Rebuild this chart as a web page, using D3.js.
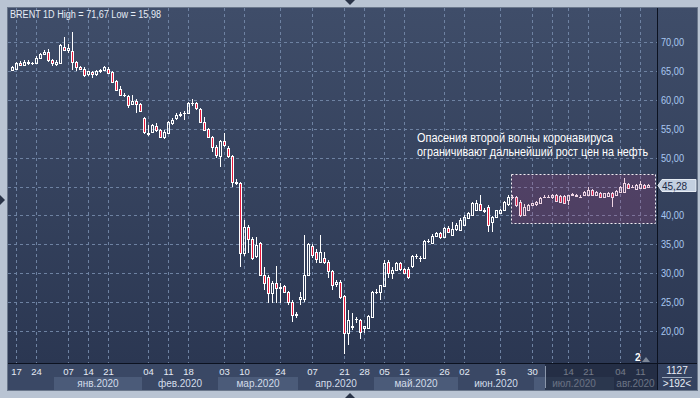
<!DOCTYPE html>
<html><head><meta charset="utf-8">
<script src="https://cdn.jsdelivr.net/npm/d3@7"></script>
<style>html,body{margin:0;padding:0;background:#b9c4d3;overflow:hidden}svg{display:block;font-family:"Liberation Sans",Arial,sans-serif}</style>
</head><body><svg id="c" width="700" height="398"></svg>
<script>
const dates = [
"2019-12-16","2019-12-17","2019-12-18","2019-12-19","2019-12-20","2019-12-23","2019-12-24","2019-12-26","2019-12-27","2019-12-30","2019-12-31",
"2020-01-02","2020-01-03","2020-01-06","2020-01-07","2020-01-08","2020-01-09","2020-01-10","2020-01-13","2020-01-14","2020-01-15","2020-01-16","2020-01-17","2020-01-20","2020-01-21","2020-01-22","2020-01-23","2020-01-24","2020-01-27","2020-01-28","2020-01-29","2020-01-30","2020-01-31",
"2020-02-03","2020-02-04","2020-02-05","2020-02-06","2020-02-07","2020-02-10","2020-02-11","2020-02-12","2020-02-13","2020-02-14","2020-02-17","2020-02-18","2020-02-19","2020-02-20","2020-02-21","2020-02-24","2020-02-25","2020-02-26","2020-02-28",
"2020-03-02","2020-03-03","2020-03-04","2020-03-05","2020-03-06","2020-03-09","2020-03-10","2020-03-11","2020-03-12","2020-03-16","2020-03-17","2020-03-18","2020-03-19","2020-03-20","2020-03-23","2020-03-24","2020-03-25","2020-03-26","2020-03-30","2020-03-31",
"2020-04-01","2020-04-02","2020-04-03","2020-04-07","2020-04-08","2020-04-09","2020-04-14","2020-04-15","2020-04-16","2020-04-17","2020-04-20","2020-04-21","2020-04-22","2020-04-23","2020-04-24","2020-04-27","2020-04-28","2020-04-29","2020-04-30",
"2020-05-01","2020-05-04","2020-05-05","2020-05-06","2020-05-07","2020-05-08","2020-05-11","2020-05-12","2020-05-13","2020-05-14","2020-05-15","2020-05-18","2020-05-19","2020-05-20","2020-05-21","2020-05-22","2020-05-25","2020-05-26","2020-05-27","2020-05-28","2020-05-29",
"2020-06-01","2020-06-02","2020-06-03","2020-06-04","2020-06-05","2020-06-08","2020-06-09","2020-06-10","2020-06-11","2020-06-15","2020-06-16","2020-06-17","2020-06-18","2020-06-22","2020-06-23","2020-06-24","2020-06-25","2020-06-29","2020-06-30",
"2020-07-01","2020-07-02","2020-07-03","2020-07-06","2020-07-07","2020-07-08","2020-07-09","2020-07-13","2020-07-14","2020-07-15","2020-07-16","2020-07-17","2020-07-20","2020-07-21","2020-07-22","2020-07-23","2020-07-24","2020-07-27","2020-07-29","2020-07-30",
"2020-08-03","2020-08-04","2020-08-05","2020-08-06","2020-08-07","2020-08-10","2020-08-11","2020-08-12","2020-08-13"];

const opens = [65.2,65.4,66.3,66.1,66.6,66.3,66.4,67.3,67.9,68.3,66.9,66.2,66.4,69.2,68.6,68.5,66.5,65.7,65.4,64.5,64.8,64.4,65.0,65.2,65.4,64.8,63.2,61.9,60.9,60.7,59.3,59.8,59.2,56.8,54.3,54.4,55.4,54.8,53.6,54.3,55.9,56.8,57.4,57.8,57.8,59.4,59.4,58.4,56.2,54.9,53.6,51.9,50.2,52.8,51.6,50.2,45.7,45.55,33.45,38.05,36.0,32.9,35.2,29.7,29.4,26.5,28.25,27.5,27.7,26.8,25.1,22.8,25.5,25.6,29.7,34.7,33.7,32.0,32.7,32.0,30.3,28.2,28.4,26.0,19.6,20.9,22.0,21.9,20.5,20.5,22.5,26.8,26.8,27.8,31.9,30.0,30.6,31.7,30.7,30.8,31.2,32.9,32.7,32.6,35.6,35.2,36.5,37.0,36.3,37.8,36.6,37.6,37.5,38.3,39.5,40.1,41.0,41.9,40.9,41.5,38.9,39.8,40.5,41.0,41.9,43.1,43.1,42.4,40.1,40.9,41.8,41.9,42.1,43.2,43.25,43.1,43.5,43.4,43.4,42.7,43.6,43.3,43.25,43.5,43.5,44.4,43.5,43.8,43.25,43.3,43.9,43.5,44.1,44.1,45.37,44.97,44.57,44.68,45.26,45.0];
const highs = [65.9,66.6,66.7,66.9,66.8,66.6,67.6,68.1,68.7,68.8,67.1,66.8,69.7,70.9,69.6,71.67,66.7,65.9,65.6,65.0,65.0,65.2,65.3,65.9,65.7,65.0,63.4,62.4,61.1,60.9,60.8,60.1,59.4,57.0,55.7,55.8,55.9,55.0,54.7,56.4,56.9,57.7,57.9,58.0,59.6,60.1,59.6,58.5,57.0,55.2,53.8,52.2,53.0,54.2,52.0,50.5,46.3,45.8,39.2,38.3,36.2,36.3,35.4,31.1,29.7,28.6,31.2,28.3,28.0,27.0,25.4,23.3,26.8,36.6,35.3,35.0,34.2,36.6,33.6,32.3,30.6,28.9,28.8,26.3,23.6,23.1,22.5,22.1,20.9,22.7,26.9,27.2,28.0,32.3,32.3,31.0,32.0,32.0,30.9,31.0,33.2,33.3,33.0,35.8,35.9,36.8,37.2,37.2,38.0,38.1,38.9,38.6,39.5,40.0,40.6,42.3,42.7,43.5,41.3,41.8,39.9,41.0,41.1,42.5,43.6,43.6,43.4,42.6,41.9,41.9,42.2,42.5,43.1,43.5,43.6,43.7,43.7,43.6,43.6,43.6,43.9,43.7,43.5,44.3,44.97,44.6,44.3,44.0,43.9,44.0,44.1,44.4,45.1,46.4,45.6,45.2,45.4,45.9,45.5,45.4];
const lows = [65.0,65.3,65.9,66.0,66.0,66.1,66.3,67.1,67.8,66.6,65.9,65.9,66.2,68.4,68.1,65.2,64.9,65.1,64.0,64.2,63.7,64.2,64.7,65.0,64.5,63.0,61.6,60.6,60.5,58.6,59.1,57.8,57.9,54.1,53.8,54.2,54.5,53.4,53.3,54.1,55.6,56.5,57.1,56.5,57.6,59.0,58.3,56.0,54.7,53.4,51.0,49.9,48.4,51.8,50.0,45.0,45.2,31.1,33.0,33.5,32.3,32.7,29.5,27.1,24.8,24.8,24.8,24.8,26.5,24.5,21.6,22.3,24.5,25.0,29.5,32.6,31.8,31.8,31.6,29.1,27.1,27.6,25.5,15.98,17.6,20.2,21.4,18.7,19.6,20.3,22.3,26.4,25.4,27.6,29.1,29.0,30.4,30.4,29.8,29.0,30.9,32.4,32.0,32.4,35.2,35.0,36.2,36.0,36.1,37.0,36.4,37.3,37.3,38.1,39.3,39.9,40.8,40.8,40.5,37.2,37.2,39.6,40.3,40.8,41.7,42.8,41.5,39.8,39.9,40.7,41.6,41.7,41.9,43.0,43.0,42.9,42.3,42.2,41.9,41.8,43.4,43.1,43.0,43.3,43.3,43.3,43.3,43.1,43.1,43.1,41.5,43.3,43.9,43.9,44.6,44.7,44.4,44.5,44.6,44.9];
const closes = [65.6,66.3,66.1,66.6,66.3,66.4,67.3,67.9,68.3,66.9,66.3,66.6,69.5,68.6,68.9,66.6,65.7,65.4,64.3,64.9,64.5,65.0,65.1,65.6,64.7,63.1,61.7,60.8,60.8,59.1,59.8,59.2,58.0,54.4,54.1,55.6,54.7,53.6,54.5,56.2,56.5,57.4,57.6,57.7,59.4,59.5,58.5,56.2,54.8,53.6,51.9,50.5,52.8,52.2,50.2,45.7,45.6,33.45,38.05,36.0,32.6,34.9,29.7,28.25,26.5,28.25,27.4,27.6,26.8,25.1,22.8,22.9,25.8,29.7,35.05,33.1,32.4,33.7,32.0,30.3,28.0,28.4,25.9,19.6,21.9,20.75,22.0,19.9,20.9,22.6,26.8,26.8,28.0,31.7,30.0,30.6,31.7,30.7,30.1,29.4,32.9,32.9,32.6,35.6,35.5,36.5,37.0,36.3,37.8,37.2,37.6,38.3,39.2,39.8,40.4,42.1,42.1,41.0,40.8,38.3,39.8,40.9,41.0,42.3,43.1,43.25,41.8,40.1,41.5,41.8,42.1,42.3,42.95,43.25,43.2,43.5,42.5,42.4,42.1,43.5,43.65,43.6,43.2,44.1,44.4,43.5,44.1,43.25,43.8,43.8,43.25,44.2,44.97,45.55,44.8,44.95,45.26,45.37,44.8,45.28];

const priceTicks = [20,25,30,35,40,45,50,55,60,65,70];
const dayTickDates = ["2019-12-17","2019-12-24","2020-01-07","2020-01-14","2020-01-21","2020-02-04","2020-02-11","2020-02-18","2020-03-03","2020-03-10","2020-03-24","2020-04-07","2020-04-21","2020-04-28","2020-05-05","2020-05-12","2020-05-26","2020-06-02","2020-06-16","2020-06-30","2020-07-14","2020-07-21","2020-08-04","2020-08-11"];
const dayTickLabels = ["17","24","07","14","21","04","11","18","03","10","24","07","21","28","05","12","26","02","16","30","14","21","04","11"];
const extraGridDates = ["2020-07-07"];
const monthStarts = ["2020-01-02","2020-02-03","2020-03-02","2020-04-01","2020-05-01","2020-06-01","2020-07-01","2020-08-03"];
const monthLabels = ["янв.2020","фев.2020","мар.2020","апр.2020","май.2020","июн.2020","июл.2020","авг.2020"];
const title = "BRENT 1D High = 71,67 Low = 15,98";
const noteLines = ["Опасения второй волны коронавируса","ограничивают дальнейший рост цен на нефть"];
const boxFrom = "2020-06-22", boxLow = 38.7, boxHigh = 47.2;
const lastPrice = 45.28;
const cornerTop = "1127", cornerBottom = ">192<";

const svg = d3.select("#c");
const L = 8, T = 8, R = 657, B = 363, AX = 697, AB = 390;
const x = d3.scalePoint().domain(dates).range([12, 648]);
const y = d3.scaleLinear().domain([20, 70]).range([331, 42]);
const fmt = v => d3.format(".2f")(v).replace(".", ",");

const defs = svg.append("defs");
const g1 = defs.append("linearGradient").attr("id","bg").attr("x1",0).attr("y1",0).attr("x2",0).attr("y2",1);
g1.append("stop").attr("offset","0%").attr("stop-color","#3f4d69");
g1.append("stop").attr("offset","100%").attr("stop-color","#2b3752");
defs.append("clipPath").attr("id","pc").append("rect").attr("x",L).attr("y",T).attr("width",R-L).attr("height",B-T);

// frame + panels
svg.append("rect").attr("x",0).attr("y",0).attr("width",700).attr("height",398).attr("fill","#b9c4d3");
svg.append("rect").attr("x",L-0.5).attr("y",T-0.5).attr("width",AX-L+1).attr("height",AB-T+1).attr("fill","#2a354c").attr("stroke","#6b788c");
svg.append("rect").attr("x",L).attr("y",T).attr("width",AX-L).attr("height",B-T).attr("fill","url(#bg)");

// horizontal grid
const grid = svg.append("g").attr("clip-path","url(#pc)");
grid.selectAll("line.h").data(priceTicks).join("line")
  .attr("x1",L).attr("x2",R).attr("y1",d=>Math.round(y(d))+0.5).attr("y2",d=>Math.round(y(d))+0.5)
  .attr("stroke","#6e82a2").attr("stroke-dasharray","3,3");
grid.selectAll("line.v").data(dayTickDates.concat(extraGridDates)).join("line")
  .attr("x1",d=>Math.round(x(d))+0.5).attr("x2",d=>Math.round(x(d))+0.5).attr("y1",T).attr("y2",B)
  .attr("stroke","#6e82a2").attr("stroke-dasharray","3,3");

// candles
const data = dates.map((d,i)=>({d,o:opens[i],h:highs[i],l:lows[i],c:closes[i]}));
const cg = svg.append("g").attr("clip-path","url(#pc)");
data.forEach(k=>{
  const cx = Math.round(x(k.d)) + 0.5;
  const yt = Math.round(y(Math.max(k.o,k.c))), yb = Math.round(y(Math.min(k.o,k.c)));
  const yh = Math.round(y(k.h)), yl = Math.round(y(k.l));
  const g = cg.append("g");
  g.append("line").attr("x1",cx).attr("x2",cx).attr("y1",yh).attr("y2",yt).attr("stroke","#fff");
  g.append("line").attr("x1",cx).attr("x2",cx).attr("y1",yb).attr("y2",yl).attr("stroke","#fff");
  if (yb - yt < 1) {
    g.append("line").attr("x1",cx-1.5).attr("x2",cx+1.5).attr("y1",yt+0.5).attr("y2",yt+0.5).attr("stroke","#fff");
  } else {
    g.append("rect").attr("x",cx-1).attr("y",yt+0.5).attr("width",2).attr("height",yb-yt)
      .attr("fill", k.c >= k.o ? "none" : "#e8173a").attr("stroke","#fff");
  }
});

// annotation box
const bx0 = Math.round(x(boxFrom)) - 0.5, bx1 = Math.round(x(dates[dates.length-1])) + 7.5;
svg.append("rect").attr("x",bx0).attr("y",Math.round(y(boxHigh))+0.5)
  .attr("width",bx1-bx0).attr("height",Math.round(y(boxLow))-Math.round(y(boxHigh)))
  .attr("fill","#b0407e").attr("fill-opacity",0.22).attr("stroke","#f2eef4").attr("stroke-dasharray","2,2");

svg.selectAll("text.note").data(noteLines).join("text")
  .attr("x",417).attr("y",(d,i)=>141.5+i*14).attr("fill","#ffffff").attr("font-size",12.5)
  .attr("textLength",(d,i)=>i===0?196:231).attr("lengthAdjust","spacingAndGlyphs").text(d=>d);

svg.append("text").attr("x",10).attr("y",18).attr("fill","#e6ecf6").attr("font-size",10)
  .attr("textLength",151).attr("lengthAdjust","spacingAndGlyphs").text(title);

// right axis
svg.append("line").attr("x1",R+0.5).attr("x2",R+0.5).attr("y1",T).attr("y2",AB).attr("stroke","#0c1220");
svg.selectAll("text.yt").data(priceTicks).join("text")
  .attr("x",661).attr("y",d=>y(d)+4).attr("fill","#a9c7f0").attr("font-size",10)
  .attr("textLength",23).attr("lengthAdjust","spacingAndGlyphs").text(fmt);
// last price callout
const ly = Math.round(y(lastPrice));
svg.append("path").attr("d",`M${R+1},${ly+0.5} L${R+5},${ly-5.5} L${AX-1},${ly-5.5} L${AX-1},${ly+6.5} L${R+5},${ly+6.5} Z`)
  .attr("fill","#c3cfe0").attr("stroke","#e6ecf4");
svg.append("text").attr("x",662).attr("y",ly+4.5).attr("fill","#1d2b48").attr("font-size",10).text(fmt(lastPrice));

// bottom axis
svg.append("rect").attr("x",L).attr("y",B).attr("width",R-L).attr("height",AB-B).attr("fill","#3a4865");
svg.append("line").attr("x1",L).attr("x2",AX).attr("y1",B+0.5).attr("y2",B+0.5).attr("stroke","#0c1220");
const mStartX = monthStarts.map(d=>Math.round(x(d))-2);
monthLabels.forEach((m,i)=>{
  const a = mStartX[i], b = i<monthLabels.length-1 ? mStartX[i+1] : R;
  if (i % 2 === 0) svg.append("rect").attr("x",a).attr("y",377).attr("width",b-a).attr("height",AB-377).attr("fill","#4b5b79");
  svg.append("text").attr("x",(a+b)/2).attr("y",386.5).attr("text-anchor","middle").attr("fill","#d2dcea").attr("font-size",10).text(m);
});
svg.selectAll("text.dt").data(dayTickDates).join("text")
  .attr("x",d=>Math.round(x(d))+0.5).attr("y",374.5).attr("text-anchor","middle").attr("fill","#e4eaf4").attr("font-size",9.5)
  .text((d,i)=>dayTickLabels[i]);

// corner box
svg.append("rect").attr("x",R+1).attr("y",B+1).attr("width",AX-R-1).attr("height",AB-B-1).attr("fill","#344260");
svg.append("text").attr("x",677).attr("y",374).attr("text-anchor","middle").attr("fill","#e8eef6").attr("font-size",10).text(cornerTop);
svg.append("line").attr("x1",662).attr("x2",692).attr("y1",377.5).attr("y2",377.5).attr("stroke","#9aa8bc");
svg.append("text").attr("x",677).attr("y",387).attr("text-anchor","middle").attr("fill","#e8eef6").attr("font-size",10).text(cornerBottom);

// scroll overlay on the time axis
const ovx = Math.round(x("2020-07-01")) + 9;
svg.append("rect").attr("x",ovx).attr("y",B+1).attr("width",R-ovx).attr("height",AB-B-1).attr("fill","#121a2c").attr("fill-opacity",0.55);
svg.append("line").attr("x1",ovx+0.5).attr("x2",ovx+0.5).attr("y1",B+3).attr("y2",AB-2).attr("stroke","#8a96aa");

// small "2" marker
svg.append("text").attr("x",635).attr("y",361).attr("fill","#ffffff").attr("font-size",10).attr("font-weight","bold").text("2");
svg.append("path").attr("d","M642,362 L650,362 L646,357 Z").attr("fill","#7d8899");

// frame arrows
svg.append("path").attr("d","M345,0 L355,0 L350,5 Z").attr("fill","#2a3448");
svg.append("path").attr("d","M345,398 L355,398 L350,393 Z").attr("fill","#2a3448");
svg.append("path").attr("d","M0,195 L0,205 L5,200 Z").attr("fill","#2a3448");
</script></body></html>
